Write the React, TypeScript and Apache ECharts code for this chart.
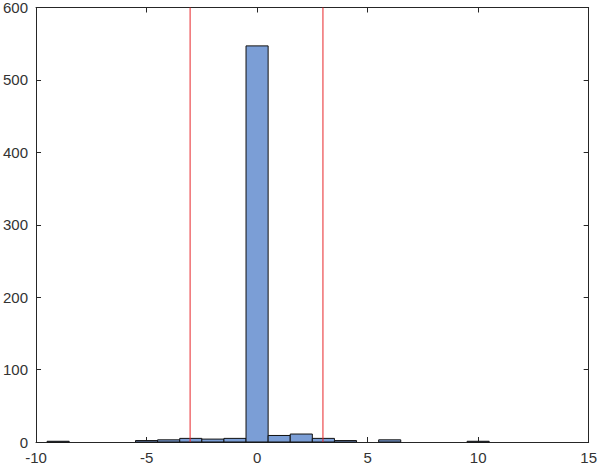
import React, { useEffect, useRef } from "react";
import * as echarts from "echarts";

const binCenters = [-9, -5, -4, -3, -2, -1, 0, 1, 2, 3, 4, 6, 10];
const binCounts = [1, 2, 3, 5, 4, 5, 547, 9, 11, 5, 2, 3, 1];
const binWidth = 1;
const limitLines = [-3.03, 2.98];
const xTicks = [-10, -5, 0, 5, 10, 15];
const yTicks = [0, 100, 200, 300, 400, 500, 600];

export default function App() {
  const ref = useRef<HTMLDivElement>(null);
  useEffect(() => {
    const chart = echarts.init(ref.current!, null, { renderer: "svg" });
    const axisColor = "#262626";
    const labelColor = "#333333";
    const font = "Liberation Sans, Arial, sans-serif";
    const data = binCenters.map((c, i) => [c - binWidth / 2, c + binWidth / 2, binCounts[i]]);
    const common = {
      axisLine: { show: true, onZero: false, lineStyle: { color: axisColor, width: 1 } },
      axisTick: { show: true, inside: true, length: 5, lineStyle: { color: axisColor } },
      splitLine: { show: false },
    };
    const xr = { min: xTicks[0], max: xTicks[xTicks.length - 1], interval: 5 };
    const yr = { min: yTicks[0], max: yTicks[yTicks.length - 1], interval: 100 };
    chart.setOption({
      animation: false,
      grid: { left: 36, right: 10, top: 7, bottom: 28 },
      xAxis: [
        {
          type: "value", ...xr, position: "bottom", ...common,
          axisLabel: { color: labelColor, fontSize: 15, fontFamily: font, margin: 8 },
        },
        {
          type: "value", ...xr, position: "top", ...common,
          axisLabel: { show: false },
        },
      ],
      yAxis: [
        {
          type: "value", ...yr, position: "left", ...common,
          axisLabel: { color: labelColor, fontSize: 15, fontFamily: font, margin: 8 },
        },
        {
          type: "value", ...yr, position: "right", ...common,
          axisLabel: { show: false },
        },
      ],
      series: [
        {
          type: "custom",
          xAxisIndex: 0,
          yAxisIndex: 0,
          data,
          renderItem: (params: any, api: any) => {
            const p0 = api.coord([api.value(0), api.value(2)]);
            const p1 = api.coord([api.value(1), 0]);
            return {
              type: "rect",
              shape: { x: p0[0], y: p0[1], width: p1[0] - p0[0], height: p1[1] - p0[1] },
              style: { fill: "#7B9ED6", stroke: "#111111", lineWidth: 1 },
            };
          },
        },
        ...limitLines.map((v) => ({
          type: "line",
          xAxisIndex: 0,
          yAxisIndex: 0,
          data: [[v, yr.min], [v, yr.max]],
          symbol: "none",
          silent: true,
          lineStyle: { color: "#E8262A", width: 1 },
          z: 5,
        })),
      ],
    });
    return () => chart.dispose();
  }, []);
  return <div ref={ref} style={{ width: 600, height: 470, position: "absolute", left: 0, top: 0 }} />;
}
